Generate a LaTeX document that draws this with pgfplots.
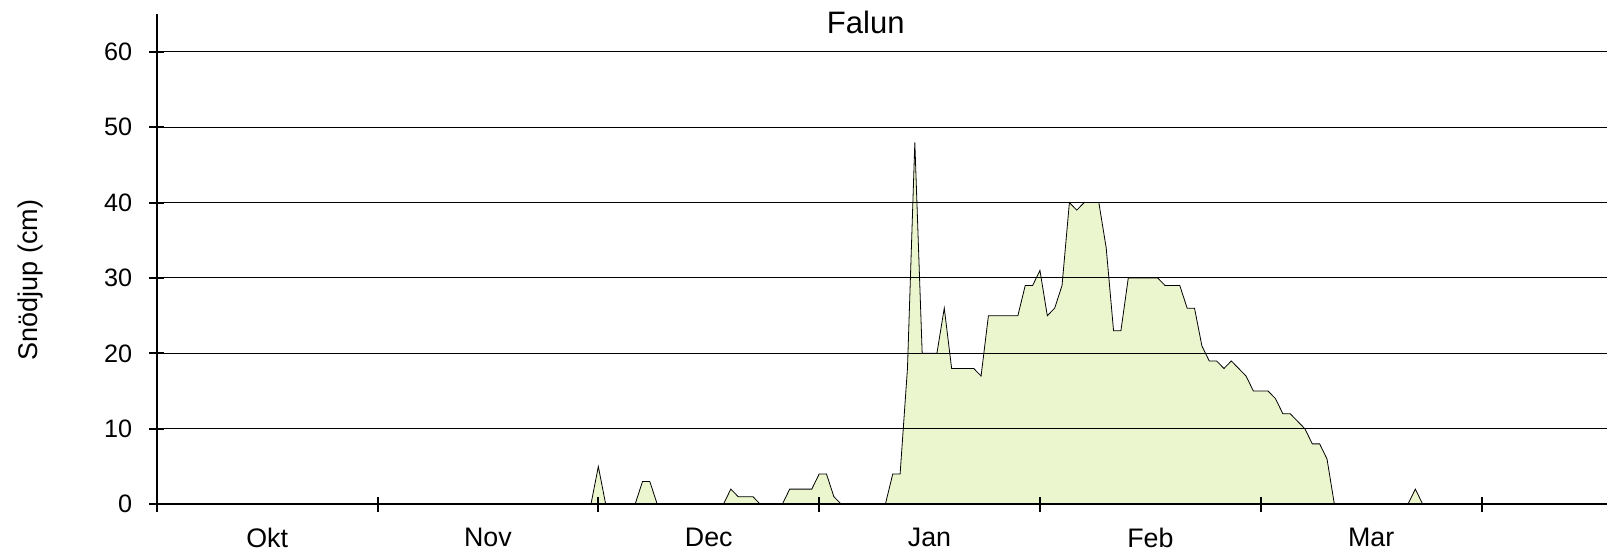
\documentclass[border=0pt]{standalone}
\usepackage{fontspec}
\setmainfont{Liberation Sans}
\usepackage{pgfplots}
\pgfplotsset{compat=1.18}
\definecolor{snowfill}{RGB}{235,246,206}
\begin{document}
\begin{tikzpicture}
\begin{axis}[
  at={(78.35pt,23.9pt)}, anchor=south west,
  scale only axis, width=725pt, height=245.05pt,
  xmin=0, xmax=197, ymin=0, ymax=65,
  axis x line=bottom, axis y line=left,
  axis line style={-, line width=1.1pt},
  xtick={0,30,...,180}, xticklabels={Okt,Nov,Dec,Jan,Feb,Mar},
  x tick label as interval,
  ytick={0,10,...,60},
  tick align=center, major tick length=7.6pt,
  tick style={black, line width=1pt},
  set layers, axis on top,
  ymajorgrids, grid style={black, line width=0.5pt, /pgfplots/on layer=axis background},
  /pgf/number format/assume math mode=true,
  yticklabel style={font=\fontsize{12.6}{15}\selectfont, xshift=-5pt},
  xticklabel style={font=\fontsize{13.4}{16}\selectfont, yshift=-4.5pt},
  every axis title shift=0pt,
  title={Falun},
  title style={font=\fontsize{15.5}{18}\selectfont, at={(axis description cs:0.489,0.9604)}, anchor=base},
  ylabel={Snödjup (cm)},
  ylabel style={font=\fontsize{13.5}{16}\selectfont, at={(axis description cs:-0.0867,0.4575)}, anchor=center},
]
\addplot[draw=black, line width=0.4pt, fill=snowfill] coordinates {
(0,0) (59,0) (60,5) (61,0) (65,0) (66,3) (67,3) (68,0)
(77,0) (78,2) (79,1) (80,1) (81,1) (82,0)
(85,0) (86,2) (87,2) (88,2) (89,2) (90,4) (91,4) (92,1) (93,0)
(99,0) (100,4) (101,4) (102,18) (103,48) (104,20) (105,20) (106,20) (107,26) (108,18) (109,18) (110,18) (111,18) (112,17)
(113,25) (114,25) (115,25) (116,25) (117,25) (118,29) (119,29) (120,31) (121,25) (122,26) (123,29) (124,40) (125,39) (126,40) (127,40) (128,40)
(129,34) (130,23) (131,23) (132,30) (133,30) (134,30) (135,30) (136,30) (137,29) (138,29) (139,29) (140,26) (141,26) (142,21) (143,19) (144,19)
(145,18) (146,19) (147,18) (148,17) (149,15) (150,15) (151,15) (152,14) (153,12) (154,12) (155,11) (156,10) (157,8) (158,8) (159,6) (160,0)
(170,0) (171,2) (172,0)
} \closedcycle;
\end{axis}
\pgfresetboundingbox
\path[use as bounding box] (0,0) rectangle (809.5pt,276pt);
\end{tikzpicture}
\end{document}
